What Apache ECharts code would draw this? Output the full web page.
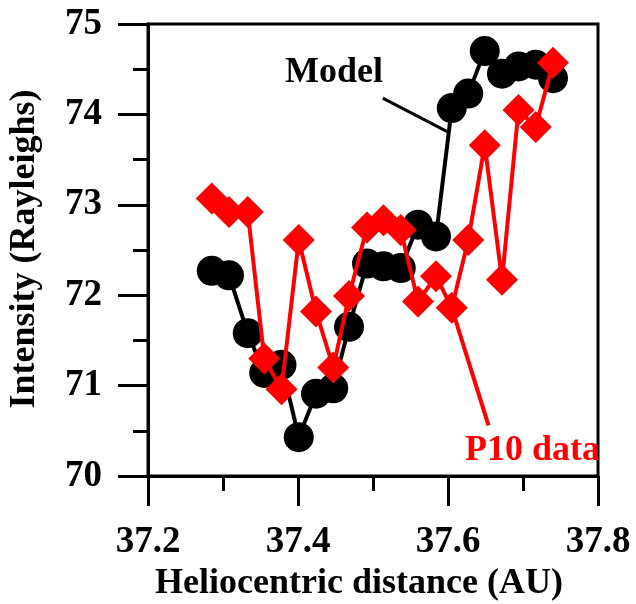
<!DOCTYPE html>
<html>
<head>
<meta charset="utf-8">
<script src="https://cdn.jsdelivr.net/npm/echarts@6/dist/echarts.min.js"></script>
<style>
html,body{margin:0;padding:0;background:#fff;}
#c{width:636px;height:604px;}
</style>
</head>
<body>
<div id="c"></div>
<script>
const xValues = [37.285, 37.308, 37.333, 37.355, 37.378, 37.401, 37.424, 37.447, 37.468, 37.492, 37.514, 37.537, 37.560, 37.584, 37.605, 37.627, 37.649, 37.672, 37.694, 37.717, 37.740];
const modelValues = [72.27, 72.22, 71.58, 71.14, 71.23, 70.43, 70.91, 70.97, 71.65, 72.35, 72.32, 72.30, 72.78, 72.65, 74.07, 74.23, 74.70, 74.45, 74.53, 74.55, 74.40];
const p10Values = [73.07, 72.92, 72.92, 71.30, 70.96, 72.61, 71.82, 71.20, 71.99, 72.75, 72.83, 72.72, 71.93, 72.21, 71.86, 72.61, 73.66, 72.17, 74.05, 73.86, 74.57];
const modelLeader = [[37.513, 74.18], [37.599, 73.81]];
const p10Leader = [[37.605, 71.86], [37.654, 70.56]];
const xTicks = [37.2, 37.4, 37.6, 37.8];
const yTicks = [70, 71, 72, 73, 74, 75];

const FONT = '"Liberation Serif", "Times New Roman", serif';
const chart = echarts.init(document.getElementById('c'), null, {renderer: 'canvas'});
const pair = (xs, ys) => xs.map((x, i) => [x, ys[i]]);

chart.setOption({
  animation: false,
  backgroundColor: '#fff',
  grid: {left: 148, right: 38, top: 24, bottom: 128, show: true, borderColor: '#000', borderWidth: 3},
  xAxis: {
    type: 'value', min: xTicks[0], max: xTicks[xTicks.length - 1], interval: 0.2,
    splitLine: {show: false},
    axisLine: {show: true, lineStyle: {color: '#000', width: 3}},
    axisTick: {show: true, inside: false, length: 30, lineStyle: {color: '#000', width: 3}},
    minorTick: {show: true, splitNumber: 2, length: 15, lineStyle: {color: '#000', width: 3}},
    axisLabel: {color: '#000', fontFamily: FONT, fontWeight: 'bold', fontSize: 37, margin: 48,
      formatter: v => Number(v).toFixed(1)}
  },
  yAxis: {
    type: 'value', min: yTicks[0], max: yTicks[yTicks.length - 1], interval: 1,
    splitLine: {show: false},
    axisLine: {show: true, lineStyle: {color: '#000', width: 3}},
    axisTick: {show: true, inside: false, length: 30, lineStyle: {color: '#000', width: 3}},
    minorTick: {show: true, splitNumber: 2, length: 15, lineStyle: {color: '#000', width: 3}},
    axisLabel: {color: '#000', fontFamily: FONT, fontWeight: 'bold', fontSize: 37, margin: 46}
  },
  graphic: [
    {type: 'text', left: 'center', style: {text: 'Heliocentric distance (AU)', x: 0, y: 0, fill: '#000',
      font: 'bold 36px ' + FONT}, left: 155, top: 566},
    {type: 'text', x: 25, y: 249, rotation: Math.PI / 2,
      style: {text: 'Intensity (Rayleighs)', fill: '#000', font: 'bold 36px ' + FONT,
        textAlign: 'center', textVerticalAlign: 'middle'}},
    {type: 'text', x: 285, y: 73, style: {text: 'Model', fill: '#000', font: 'bold 36px ' + FONT,
      textAlign: 'left', textVerticalAlign: 'middle'}},
    {type: 'text', x: 600, y: 451, style: {text: 'P10 data', fill: '#ff0000', font: 'bold 36px ' + FONT,
      textAlign: 'right', textVerticalAlign: 'middle'}}
  ],
  series: [
    {type: 'line', data: modelLeader, symbol: 'none', silent: true, z: 1,
      lineStyle: {color: '#000', width: 3}},
    {type: 'line', data: p10Leader, symbol: 'none', silent: true, z: 1,
      lineStyle: {color: '#ff0000', width: 4}},
    {type: 'line', name: 'Model', data: pair(xValues, modelValues), z: 2,
      symbol: 'circle', symbolSize: 30,
      lineStyle: {color: '#000', width: 4}, itemStyle: {color: '#000'}},
    {type: 'line', name: 'P10 data', data: pair(xValues, p10Values), z: 3,
      symbol: 'diamond', symbolSize: [32, 32],
      lineStyle: {color: '#ff0000', width: 4}, itemStyle: {color: '#ff0000'}}
  ]
});
</script>
</body>
</html>
